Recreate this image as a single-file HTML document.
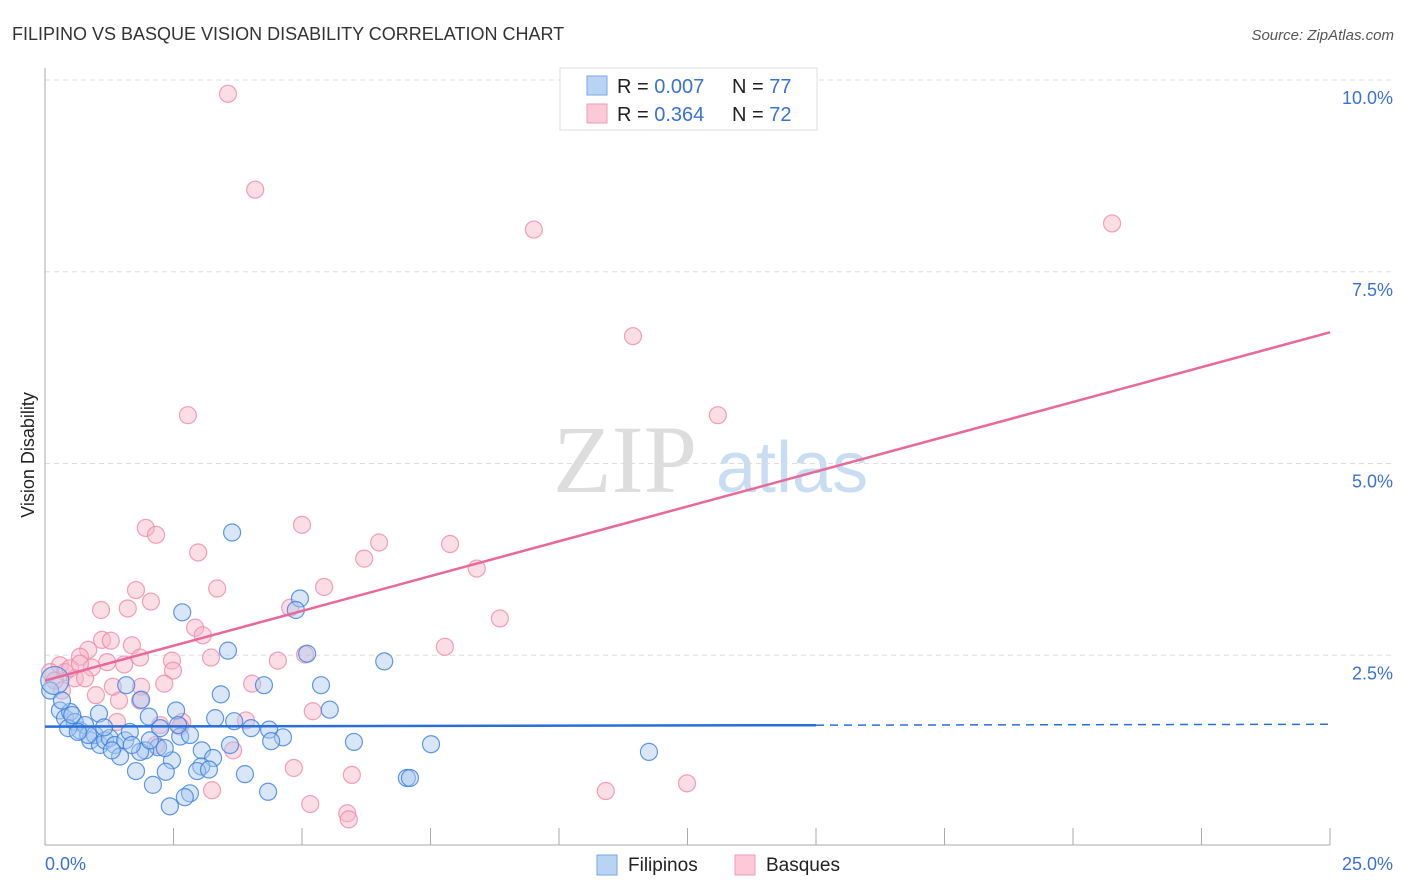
<!DOCTYPE html>
<html><head><meta charset="utf-8">
<style>
body{margin:0;background:#fff;font-family:"Liberation Sans",sans-serif;}
svg{display:block}
</style></head>
<body>
<svg id="chart" width="1406" height="892" xmlns="http://www.w3.org/2000/svg">
<text x="12" y="40" font-size="18" fill="#333">FILIPINO VS BASQUE VISION DISABILITY CORRELATION CHART</text>
<text x="1394" y="40" font-size="15" fill="#555" font-style="italic" text-anchor="end">Source: ZipAtlas.com</text>
<g>
<text x="553" y="492" font-size="96" font-family="Liberation Serif,serif" fill="#ddd">ZIP</text>
<text x="716" y="492" font-size="72" fill="#c8dcf2">atlas</text>
</g>
<text transform="translate(34,455) rotate(-90)" font-size="18" fill="#222" text-anchor="middle">Vision Disability</text>
<g id="grid"></g>
<g id="axes"></g>
<g id="marks"></g>
<g>
<rect x="560" y="68" width="257" height="62" fill="#fff" stroke="#ddd"/>
<rect x="587" y="76" width="20" height="19" fill="#b9d3f5" stroke="#7aa7e6"/>
<rect x="587" y="104" width="20" height="19" fill="#fbc9d8" stroke="#f09ab4"/>
<text x="617" y="93" font-size="20" fill="#222">R = <tspan fill="#3a72d4">0.007</tspan></text>
<text x="732" y="93" font-size="20" fill="#222">N = <tspan fill="#3a72d4">77</tspan></text>
<text x="617" y="121" font-size="20" fill="#222">R = <tspan fill="#3a72d4"> 0.364</tspan></text>
<text x="732" y="121" font-size="20" fill="#222">N = <tspan fill="#3a72d4">72</tspan></text>
</g>
<g>
<rect x="597" y="855" width="20" height="20" fill="#b9d3f5" stroke="#7aa7e6"/>
<text x="628" y="871" font-size="19" fill="#222">Filipinos</text>
<rect x="735" y="855" width="20" height="20" fill="#fbc9d8" stroke="#f09ab4"/>
<text x="766" y="871" font-size="19" fill="#222">Basques</text>
</g>
</svg>
<script>
const yTicks=[2.5,5,7.5,10];
const yTickLabels=["2.5%","5.0%","7.5%","10.0%"];
const xTicks=[2.5,5,7.5,10,12.5,15,17.5,20,22.5,25];
const xTickLabels=["0.0%","25.0%"];
const filX=[3.64,2.67,4.96,4.88,3.56,5.10,6.60,3.42,4.26,5.37,1.58,1.87,5.54,2.55,2.02,1.05,3.31,3.68,4.36,4.01,4.63,4.40,6.01,7.51,11.75,3.05,3.27,2.47,3.04,2.96,3.19,2.35,1.77,3.89,7.04,7.10,2.10,2.82,2.72,4.34,2.43,0.10,0.19,0.29,0.39,0.49,0.58,0.68,0.78,0.88,0.97,1.07,1.17,1.26,1.36,1.46,1.56,1.65,0.84,0.45,0.64,2.24,2.20,1.95,2.63,1.85,1.30,1.15,2.04,2.82,3.60,2.33,1.69,2.59,0.33,0.53];
const filY=[4.10,3.06,3.24,3.09,2.56,2.52,2.42,1.99,2.11,2.11,2.11,1.92,1.79,1.78,1.70,1.74,1.68,1.64,1.53,1.55,1.43,1.38,1.37,1.34,1.24,1.26,1.16,1.13,1.05,0.99,1.01,0.98,0.99,0.95,0.90,0.90,0.81,0.70,0.65,0.72,0.53,2.04,2.17,1.78,1.68,1.76,1.63,1.52,1.59,1.39,1.46,1.33,1.39,1.42,1.33,1.18,1.39,1.50,1.46,1.55,1.50,1.55,1.30,1.26,1.44,1.24,1.26,1.56,1.39,1.46,1.33,1.29,1.33,1.59,1.91,1.72];
const basX=[3.56,4.09,9.51,20.76,11.44,13.09,2.78,1.96,2.16,5.00,6.50,7.88,2.98,6.21,8.40,5.43,3.35,1.77,2.06,1.09,1.61,4.77,8.85,2.92,3.07,1.11,1.28,1.69,0.84,1.85,0.68,2.47,3.23,4.53,7.78,5.06,1.54,1.21,0.29,0.39,0.58,0.91,2.49,0.99,1.44,2.32,4.03,1.87,1.40,2.67,3.91,5.21,2.16,3.66,4.84,5.97,10.91,12.49,3.25,5.16,5.88,5.91,0.10,0.19,0.78,0.49,2.24,2.63,1.32,1.85,0.68,0.33];
const basY=[9.82,8.57,8.05,8.13,6.66,5.63,5.63,4.16,4.07,4.20,3.97,3.95,3.84,3.76,3.63,3.39,3.37,3.35,3.20,3.09,3.11,3.12,2.98,2.86,2.76,2.70,2.69,2.63,2.57,2.47,2.48,2.43,2.47,2.43,2.61,2.51,2.38,2.41,2.37,2.28,2.20,2.34,2.30,1.98,1.91,2.13,2.13,2.09,1.63,1.63,1.65,1.77,1.33,1.26,1.03,0.94,0.73,0.83,0.74,0.56,0.44,0.36,2.28,2.17,2.20,2.33,1.59,1.57,2.09,1.91,2.39,2.04];
const filTrend=[1.57,1.60];
const basTrend=[2.17,6.71];
const NS="http://www.w3.org/2000/svg";
const X=v=>45+v*1285/25, Y=v=>847-v*76.7;
function mk(t,a,p){const e=document.createElementNS(NS,t);for(const k in a)e.setAttribute(k,a[k]);p.appendChild(e);return e;}
const grid=document.getElementById('grid'),axes=document.getElementById('axes'),marks=document.getElementById('marks');
yTicks.forEach((t,i)=>{
 const l=mk('line',{x1:45,x2:1393,y1:Y(t),y2:Y(t),stroke:'#ddd','stroke-dasharray':'5,4'},grid);
 
 
 const tx=mk('text',{x:1393,y:Y(t)+24,'font-size':18,fill:'#3a72d4','text-anchor':'end'},grid);
 tx.textContent=yTickLabels[i];
 
 
});
const ya=mk('line',{x1:45,x2:45,y1:68,y2:845,stroke:'#aaa'},axes);


const xa=mk('line',{x1:45,x2:1330,y1:845,y2:845,stroke:'#aaa'},axes);


xTicks.forEach(t=>{const l=mk('line',{x1:X(t),x2:X(t),y1:828,y2:845,stroke:'#aaa'},axes);
 
 });
[[0,'start',45],[1,'end',1393]].forEach(([i,a,x])=>{const t=mk('text',{x:x,y:870,'font-size':18,fill:'#3a72d4','text-anchor':a},axes);t.textContent=xTickLabels[i];
 
 });
function pts(xs,ys,fill,stroke,name){xs.forEach((x,i)=>{const c=mk('circle',{cx:X(x),cy:Y(ys[i]),r:i==42&&name=='filipino-point'?14:8.5,fill:fill,'fill-opacity':0.45,stroke:stroke,'stroke-width':1.2,'stroke-opacity':0.8},marks);
 
 });}
pts(basX,basY,'#f7b3c8','#ef8aa9','basque-point');
pts(filX,filY,'#a9c8f0','#3a7fe0','filipino-point');
const bl=mk('line',{x1:X(0),y1:Y(basTrend[0]),x2:X(25),y2:Y(basTrend[1]),stroke:'#e8689a','stroke-width':2.5},marks);


const fm=filTrend[0]+(filTrend[1]-filTrend[0])*15/25;
const f1=mk('line',{x1:X(0),y1:Y(filTrend[0]),x2:X(15),y2:Y(fm),stroke:'#2a6fd6','stroke-width':2.5},marks);


const f2=mk('line',{x1:X(15),y1:Y(fm),x2:X(25),y2:Y(filTrend[1]),stroke:'#2a6fd6','stroke-width':1.5,'stroke-dasharray':'8,6'},marks);


</script>
</body></html>
